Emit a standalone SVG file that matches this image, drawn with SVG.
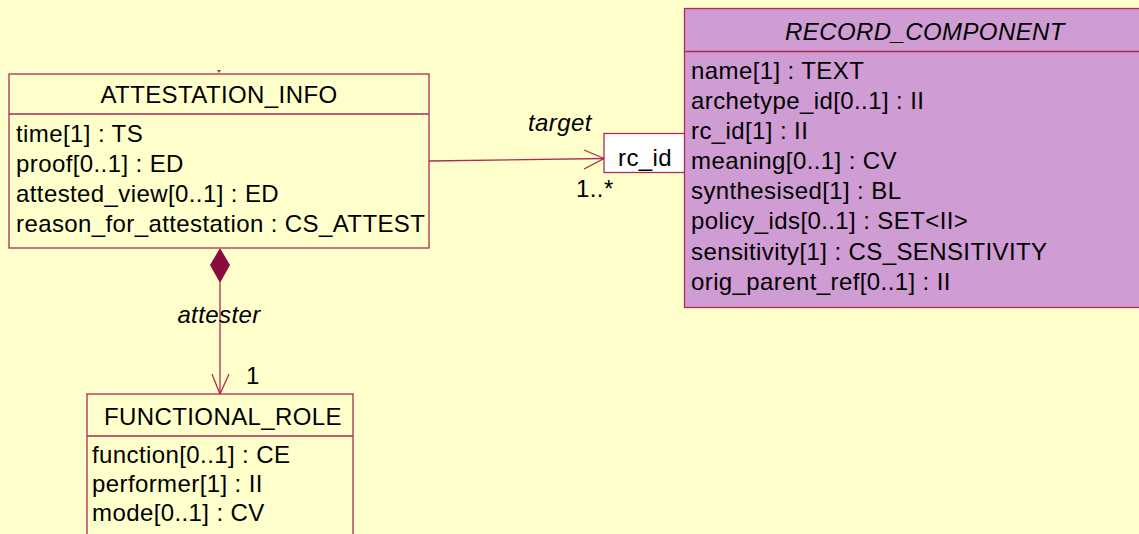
<svg xmlns="http://www.w3.org/2000/svg" width="1139" height="534" viewBox="0 0 1139 534">
<style>
text{font-family:"Liberation Sans",Arial,sans-serif;font-size:24px;letter-spacing:0.4px;fill:#000}
.t{text-anchor:middle}
.i{font-style:italic}
.box{fill:#FFFFCC;stroke:#B02A55;stroke-width:1.3}
.rc{fill:#D09CD4;stroke:#B02A55;stroke-width:1.3}
.ln{fill:none;stroke:#B02A55;stroke-width:1.3}
</style>
<rect width="1139" height="534" fill="#FFFFCC"/>
<g id="connectors">
<path class="ln" d="M429,161 L604,158.5"/>
<path class="ln" d="M584,150 L604,158.5 L584,169"/>
<path class="ln" d="M220,282 L220,394"/>
<path class="ln" d="M212,374 L220,394 L229,374"/>
<path d="M220,249 L229.5,265 L220,282 L210.5,265 Z" fill="#8B0A3C" stroke="#8B0A3C"/>
<path d="M217,70 L221,70 L219,73 Z" fill="#B02A55"/>
<text class="i" x="528" y="131">target</text>
<text x="576" y="197">1..*</text>
<text class="i t" x="219" y="323">attester</text>
<text x="246" y="384">1</text>
</g>
<g id="attestation_info">
<rect class="box" x="9" y="74" width="420" height="174"/>
<line class="ln" x1="9" y1="114" x2="429" y2="114"/>
<text class="t" x="219" y="103">ATTESTATION_INFO</text>
<text x="16" y="142">time[1] : TS</text>
<text x="16" y="172">proof[0..1] : ED</text>
<text x="16" y="202">attested_view[0..1] : ED</text>
<text x="16" y="232">reason_for_attestation : CS_ATTEST</text>
</g>
<g id="rc_id">
<rect x="604" y="133.5" width="83" height="39" fill="#FFFFFF" stroke="#B02A55" stroke-width="1.3"/>
<text class="t" x="645" y="166">rc_id</text>
</g>
<g id="record_component">
<rect class="rc" x="684.5" y="8.5" width="482" height="299"/>
<line class="ln" x1="684.5" y1="51.5" x2="1166" y2="51.5"/>
<text class="t i" x="925" y="40">RECORD_COMPONENT</text>
<text x="691" y="79">name[1] : TEXT</text>
<text x="691" y="109">archetype_id[0..1] : II</text>
<text x="691" y="139">rc_id[1] : II</text>
<text x="691" y="169">meaning[0..1] : CV</text>
<text x="691" y="199">synthesised[1] : BL</text>
<text x="691" y="229">policy_ids[0..1] : SET&lt;II&gt;</text>
<text x="691" y="260">sensitivity[1] : CS_SENSITIVITY</text>
<text x="691" y="290">orig_parent_ref[0..1] : II</text>
</g>
<g id="functional_role">
<rect class="box" x="87" y="394" width="266" height="150"/>
<line class="ln" x1="87" y1="436" x2="353" y2="436"/>
<text class="t" x="223" y="425">FUNCTIONAL_ROLE</text>
<text x="92" y="463">function[0..1] : CE</text>
<text x="92" y="492">performer[1] : II</text>
<text x="92" y="521">mode[0..1] : CV</text>
</g>
</svg>
